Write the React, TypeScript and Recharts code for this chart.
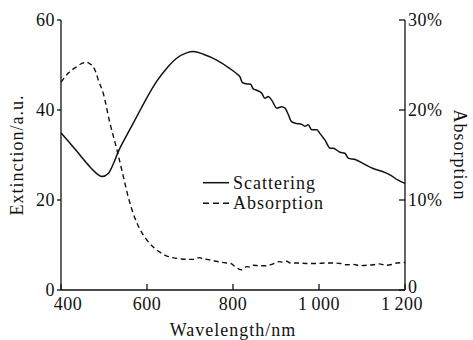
import React from 'react';
import { LineChart, Line, XAxis, YAxis, Legend } from 'recharts';

const xTicks = [400, 600, 800, 1000, 1200];
const xTickLabels = ['400', '600', '800', '1\u2009000', '1\u2009200'];
const leftTicks = [0, 20, 40, 60];
const rightTicks = [0, 10, 20, 30];
const rightTickLabels = ['0', '10%', '20%', '30%'];
const seriesNames = ['Scattering', 'Absorption'];

const scatterWl = [400, 421, 444, 467, 487, 495, 510, 522, 533, 553, 576, 599, 622, 646, 669, 692, 708, 731, 762, 793, 808, 816, 822, 832, 841, 847, 855, 867, 874, 882, 890, 902, 913, 921, 929, 936, 948, 960, 967, 975, 983, 995, 1002, 1014, 1026, 1033, 1041, 1049, 1060, 1068, 1084, 1103, 1126, 1146, 1165, 1184, 1200];
const scatterVal = [34.9, 32.6, 30.0, 27.4, 25.6, 25.2, 25.9, 28.1, 30.7, 34.4, 38.5, 42.6, 46.3, 49.3, 51.5, 52.7, 53.0, 52.4, 51.1, 49.2, 48.1, 47.4, 46.1, 45.8, 45.7, 44.7, 44.4, 43.7, 42.6, 43.0, 42.2, 40.4, 40.7, 40.4, 38.9, 37.4, 37.0, 36.8, 36.4, 36.7, 35.6, 35.6, 34.8, 33.3, 31.5, 31.5, 31.1, 30.6, 30.4, 29.3, 29.0, 28.1, 27.0, 26.4, 25.6, 24.4, 23.7];

const absorbWl = [400, 417, 436, 450, 460, 468, 475, 481, 487, 498, 514, 530, 545, 556, 568, 583, 599, 614, 630, 645, 660, 680, 700, 712, 718, 723, 730, 740, 755, 770, 785, 795, 802, 808, 815, 820, 826, 832, 840, 847, 862, 878, 890, 898, 907, 916, 925, 933, 948, 970, 995, 1015, 1033, 1050, 1064, 1080, 1095, 1110, 1126, 1140, 1157, 1170, 1181, 1200];
const absorbVal = [23.1, 24.1, 24.8, 25.2, 25.3, 25.1, 24.8, 24.2, 23.3, 21.9, 18.5, 15.6, 12.6, 10.4, 8.5, 6.8, 5.6, 4.8, 4.2, 3.8, 3.6, 3.45, 3.4, 3.4, 3.55, 3.6, 3.45, 3.4, 3.25, 3.1, 3.0, 2.95, 2.7, 2.5, 2.3, 2.25, 2.45, 2.6, 2.55, 2.75, 2.7, 2.7, 2.85, 3.0, 3.15, 3.1, 3.2, 3.0, 3.0, 2.95, 2.95, 3.0, 3.0, 2.95, 2.8, 2.85, 2.7, 2.75, 2.8, 2.9, 2.75, 2.85, 3.0, 3.05];

const scatterData = scatterWl.map((w, i) => ({ wl: w, v: scatterVal[i] }));
const absorbData = absorbWl.map((w, i) => ({ wl: w, v: absorbVal[i] }));

const INK = '#111';
const FONT = "'Liberation Serif', 'Times New Roman', serif";

const XTick = (props: any) => {
  const { x, y, payload } = props;
  const idx = xTicks.indexOf(payload.value);
  const label = idx >= 0 ? xTickLabels[idx] : String(payload.value);
  const dx = payload.value === 400 ? 7 : payload.value === 1200 ? -3 : 0;
  return (
    <g>
      <line x1={x} x2={x} y1={y - 7} y2={y - 13} stroke={INK} strokeWidth={1.3} />
      <text x={x + dx} y={y} dy="0.71em" textAnchor="middle" fill={INK} fontSize={18} fontFamily={FONT} letterSpacing={0.5}>
        {label}
      </text>
    </g>
  );
};

const RightTick = (props: any) => {
  const { x, y, payload } = props;
  const idx = rightTicks.indexOf(payload.value);
  const label = idx >= 0 ? rightTickLabels[idx] : String(payload.value);
  const dy = payload.value === 0 ? -3 : 0;
  return (
    <g>
      <line x1={x - 3} x2={x - 9} y1={y} y2={y} stroke={INK} strokeWidth={1.3} />
      <text x={x} y={y + dy} dy="0.355em" textAnchor="start" fill={INK} fontSize={18} fontFamily={FONT} letterSpacing={0.5}>
        {label}
      </text>
    </g>
  );
};

const LegendContent = (props: any) => {
  const items = [...(props.payload || [])].sort(
    (a: any, b: any) => seriesNames.indexOf(a.value) - seriesNames.indexOf(b.value)
  );
  return (
    <svg width={140} height={45} style={{ display: 'block' }}>
      {items.map((p: any, i: number) => (
        <g key={i}>
          <line
            x1={3}
            x2={29}
            y1={12.7 + i * 20.6}
            y2={12.7 + i * 20.6}
            stroke={INK}
            strokeWidth={1.5}
            strokeDasharray={p.payload && p.payload.strokeDasharray ? '6 4' : undefined}
          />
          <text x={33} y={19.3 + i * 20} fill={INK} fontSize={18} fontFamily={FONT} letterSpacing={1}>
            {p.value}
          </text>
        </g>
      ))}
    </svg>
  );
};

export default function App() {
  return (
    <div style={{ position: 'absolute', left: 0, top: 0, fontFamily: FONT, background: '#fff' }}>
      <LineChart width={473} height={340} margin={{ top: 20, right: 0, bottom: 0, left: 0 }}>
        <XAxis
          xAxisId="top"
          orientation="top"
          type="number"
          dataKey="wl"
          domain={[400, 1200]}
          height={0}
          tick={false}
          tickLine={false}
          axisLine={{ stroke: INK, strokeWidth: 1.3 }}
        />
        <XAxis
          xAxisId="x"
          type="number"
          dataKey="wl"
          domain={[400, 1200]}
          ticks={xTicks}
          height={50}
          tickSize={0}
          tickMargin={7}
          tickLine={false}
          axisLine={{ stroke: INK, strokeWidth: 1.3 }}
          tick={<XTick />}
          interval={0}
          label={{ value: 'Wavelength/nm', position: 'insideBottom', offset: 4, fill: INK, fontSize: 18, fontFamily: FONT, letterSpacing: 1 }}
        />
        <YAxis
          yAxisId="left"
          orientation="left"
          type="number"
          domain={[0, 60]}
          ticks={leftTicks}
          width={61}
          tickSize={4}
          tickMargin={2}
          interval={0}
          axisLine={{ stroke: INK, strokeWidth: 1.3 }}
          tickLine={{ stroke: INK, strokeWidth: 1.3 }}
          tick={{ fill: INK, fontSize: 18, fontFamily: FONT, letterSpacing: 0.5 }}
          label={{ value: 'Extinction/a.u.', angle: -90, position: 'insideLeft', offset: 17, fill: INK, fontSize: 18, fontFamily: FONT, letterSpacing: 1, style: { textAnchor: 'middle' } }}
        />
        <YAxis
          yAxisId="right"
          orientation="right"
          type="number"
          domain={[0, 30]}
          ticks={rightTicks}
          width={68}
          tickSize={0}
          tickMargin={3}
          interval={0}
          tickLine={false}
          axisLine={{ stroke: INK, strokeWidth: 1.3 }}
          tick={<RightTick />}
          label={{ value: 'Absorption', angle: 90, position: 'insideRight', offset: 13, fill: INK, fontSize: 18, fontFamily: FONT, letterSpacing: 1, style: { textAnchor: 'middle' } }}
        />
        <Legend
          layout="vertical"
          align="center"
          verticalAlign="middle"
          content={<LegendContent />}
          wrapperStyle={{ left: 200, top: 170, width: 140, height: 45 }}
        />
        <Line
          name="Scattering"
          data={scatterData}
          dataKey="v"
          xAxisId="x"
          yAxisId="left"
          type="monotone"
          stroke={INK}
          strokeWidth={1.5}
          dot={false}
          activeDot={false}
          isAnimationActive={false}
        />
        <Line
          name="Absorption"
          data={absorbData}
          dataKey="v"
          xAxisId="x"
          yAxisId="right"
          type="monotone"
          stroke={INK}
          strokeWidth={1.4}
          strokeDasharray="5 3.5"
          dot={false}
          activeDot={false}
          isAnimationActive={false}
        />
      </LineChart>
    </div>
  );
}
